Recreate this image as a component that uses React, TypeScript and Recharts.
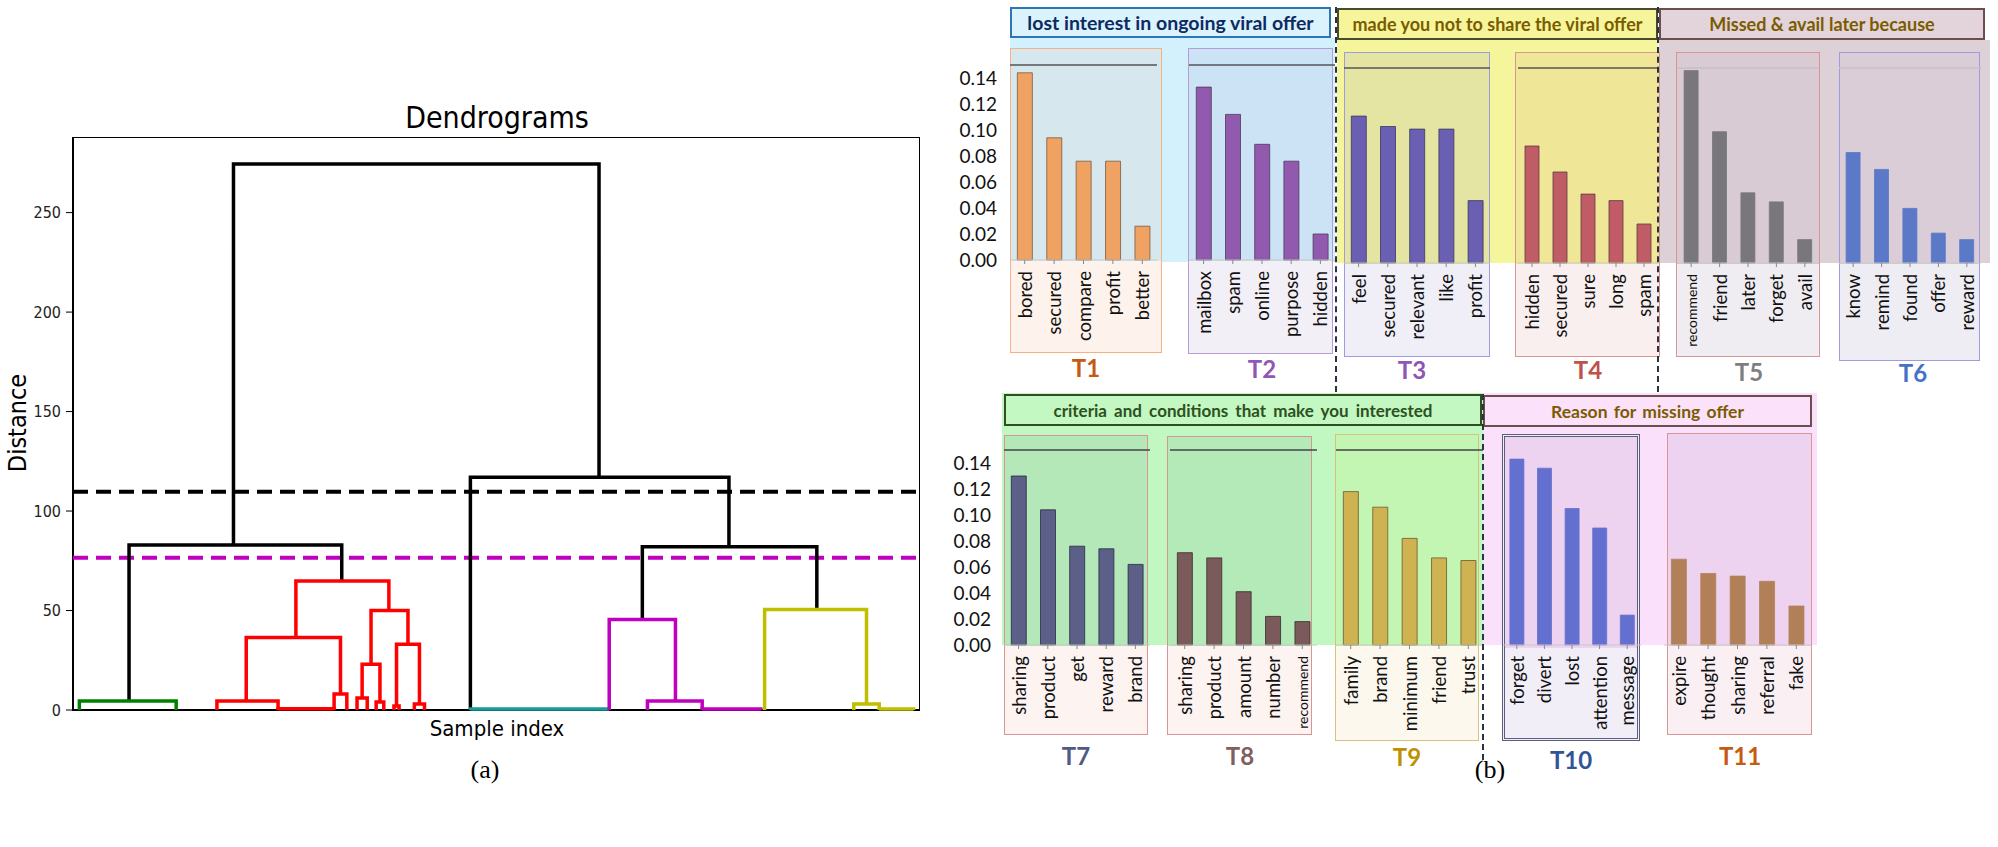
import React from "react";
import {
  ComposedChart,
  Line,
  XAxis,
  YAxis,
  ReferenceLine,
  ReferenceArea,
  BarChart,
  Bar,
} from "recharts";

// ---------- (a) dendrogram, scipy style: leg positions along the sample axis + merge heights ----------
const linkIcoord: number[][] = [
  [126, 126, 413, 413],
  [44, 44, 211, 211],
  [312, 312, 515, 515],
  [447, 447, 584, 584],
  [5, 5, 81, 81],
  [175, 175, 248, 248],
  [136, 136, 210, 210],
  [113, 113, 161, 161],
  [205, 205, 215, 215],
  [161, 161, 205, 205],
  [234, 234, 263, 263],
  [227, 227, 241, 241],
  [223, 223, 231, 231],
  [238, 238, 244, 244],
  [254, 254, 272, 272],
  [252, 252, 256, 256],
  [268, 268, 276, 276],
  [312, 312, 421, 421],
  [421, 421, 473, 473],
  [451, 451, 494, 494],
  [494, 494, 540, 540],
  [543, 543, 623, 623],
  [613, 613, 633, 633],
  [633, 633, 660, 660],
];
const linkDcoord: number[][] = [
  [82.9, 274.4, 274.4, 117.0],
  [4.5, 82.9, 82.9, 64.9],
  [0, 117.0, 117.0, 82.0],
  [45.5, 82.0, 82.0, 50.5],
  [0, 4.5, 4.5, 0],
  [36.5, 64.9, 64.9, 50.0],
  [4.5, 36.5, 36.5, 8.0],
  [0, 4.5, 4.5, 0],
  [0, 8.0, 8.0, 0],
  [0, 0.6, 0.6, 0],
  [23.0, 50.0, 50.0, 33.0],
  [6.0, 23.0, 23.0, 4.0],
  [0, 6.0, 6.0, 0],
  [0, 4.0, 4.0, 0],
  [2.0, 33.0, 33.0, 3.0],
  [0, 2.0, 2.0, 0],
  [0, 3.0, 3.0, 0],
  [0, 0.5, 0.5, 0],
  [0, 45.5, 45.5, 4.5],
  [0, 4.5, 4.5, 0],
  [0, 0.5, 0.5, 0],
  [0, 50.5, 50.5, 3.0],
  [0, 3.0, 3.0, 0],
  [0, 0.5, 0.5, 0],
];
const linkColors: string[] = [
  "#000", "#000", "#000", "#000",
  "#008000",
  "#ff0000", "#ff0000", "#ff0000", "#ff0000", "#ff0000", "#ff0000",
  "#ff0000", "#ff0000", "#ff0000", "#ff0000", "#ff0000", "#ff0000",
  "#1a9a9a",
  "#bf00bf", "#bf00bf", "#bf00bf",
  "#bfbf00", "#bfbf00", "#bfbf00",
];
const cutHeights = [109.7, 76.5];
const cutColors = ["#000", "#bf00bf"];
const distanceTicks = [0, 50, 100, 150, 200, 250];

// ---------- (b) topic word weights ----------
const topicNames = ["T1", "T2", "T3", "T4", "T5", "T6", "T7", "T8", "T9", "T10", "T11"];
const topicWords: string[][] = [
  ["bored", "secured", "compare", "profit", "better"],
  ["mailbox", "spam", "online", "purpose", "hidden"],
  ["feel", "secured", "relevant", "like", "profit"],
  ["hidden", "secured", "sure", "long", "spam"],
  ["recommend", "friend", "later", "forget", "avail"],
  ["know", "remind", "found", "offer", "reward"],
  ["sharing", "product", "get", "reward", "brand"],
  ["sharing", "product", "amount", "number", "recommend"],
  ["family", "brand", "minimum", "friend", "trust"],
  ["forget", "divert", "lost", "attention", "message"],
  ["expire", "thought", "sharing", "referral", "fake"],
];
const topicWeights: number[][] = [
  [0.144, 0.094, 0.076, 0.076, 0.026],
  [0.133, 0.112, 0.089, 0.076, 0.020],
  [0.113, 0.105, 0.103, 0.103, 0.048],
  [0.090, 0.070, 0.053, 0.048, 0.030],
  [0.148, 0.101, 0.054, 0.047, 0.018],
  [0.085, 0.072, 0.042, 0.023, 0.018],
  [0.130, 0.104, 0.076, 0.074, 0.062],
  [0.071, 0.067, 0.041, 0.022, 0.018],
  [0.118, 0.106, 0.082, 0.067, 0.065],
  [0.143, 0.136, 0.105, 0.090, 0.023],
  [0.066, 0.055, 0.053, 0.049, 0.030],
];
const weightTicks = [0, 0.02, 0.04, 0.06, 0.08, 0.1, 0.12, 0.14];
const groupTitles = [
  "lost interest in ongoing viral offer",
  "made you not to share the viral offer",
  "Missed & avail later because",
  "criteria and conditions that make you interested",
  "Reason for missing offer",
];
const smallWords = ["recommend"];

// ---------- layout ----------
const SANS = "Lato, 'Open Sans', sans-serif";
const DJV = "'DejaVu Sans Condensed', 'DejaVu Sans', sans-serif";

const GROUPS = [
  { bg: [1010, 38, 325, 224], head: [1010, 7, 321, 31], fill: "#d3f1fc", headFill: "#dbf3fc", border: "#2e75b6", text: "#0d2a63", ws: 0, fs: 19.5 },
  { bg: [1337, 40, 321, 223], head: [1337, 8, 321, 32], fill: "#f5f59b", headFill: "#f6f59c", border: "#4a4a30", text: "#7a5c00", ws: 0, fs: 18 },
  { bg: [1659, 40, 331, 223], head: [1659, 8, 326, 32], fill: "#ddd1d7", headFill: "#e3d3da", border: "#6b4f4f", text: "#7a5c00", ws: 0, fs: 18 },
  { bg: [1002, 393, 481, 252], head: [1004, 394, 478, 32], fill: "#c1f7c1", headFill: "#c3f8c3", border: "#2f4f1f", text: "#2e5020", ws: 3, fs: 17 },
  { bg: [1483, 393, 334, 252], head: [1483, 395, 329, 32], fill: "#fbe0fb", headFill: "#fce1fb", border: "#6b4f4f", text: "#7a5c00", ws: 2, fs: 17.5 },
];

// panel box [x, y, w, h], plot span, baseline, label centre
const PANELS = [
  { box: [1010, 48, 152, 305], plotL: 1010, plotR: 1157, base: 260, lab: [1086, 368], yLabels: true },
  { box: [1188, 48, 145, 306], plotL: 1189, plotR: 1335, base: 260, lab: [1262, 369], yLabels: false },
  { box: [1344, 52, 146, 305], plotL: 1344, plotR: 1490, base: 263, lab: [1412, 370], yLabels: false },
  { box: [1515, 52, 145, 305], plotL: 1518, plotR: 1658, base: 263, lab: [1588, 370], yLabels: false },
  { box: [1676, 52, 144, 305], plotL: 1677, plotR: 1819, base: 263, lab: [1749, 372], yLabels: false },
  { box: [1839, 52, 141, 309], plotL: 1839, plotR: 1981, base: 263, lab: [1913, 373], yLabels: false },
  { box: [1004, 435, 144, 300], plotL: 1004, plotR: 1150, base: 645, lab: [1076, 756], yLabels: true },
  { box: [1167, 436, 145, 299], plotL: 1170, plotR: 1317, base: 645, lab: [1240, 756], yLabels: false },
  { box: [1335, 434, 144, 307], plotL: 1336, plotR: 1483, base: 645, lab: [1407, 757], yLabels: false },
  { box: [1502, 434, 138, 307], plotL: 1503, plotR: 1641, base: 645, lab: [1571, 760], yLabels: false },
  { box: [1667, 433, 145, 302], plotL: 1664, plotR: 1811, base: 645, lab: [1740, 756], yLabels: false },
];

const STYLES = [
  { bar: "#f0a262", edge: "#7a5a40", border: "#f4b183", up: "#d6e8ee", low: "#fdf3ec", label: "#c55a11", topLine: "#555" },
  { bar: "#925aae", edge: "#4a3a5a", border: "#b99bd5", up: "#cce3f6", low: "#f3eff7", label: "#9157b5", topLine: "#555" },
  { bar: "#6a5fb2", edge: "#3a3a5a", border: "#9f9be0", up: "#e4e5a2", low: "#f0eff8", label: "#8e55b5", topLine: "#555" },
  { bar: "#c05c66", edge: "#5a3a3a", border: "#d99594", up: "#efe698", low: "#f9efef", label: "#c0504d", topLine: "#555" },
  { bar: "#7a777c", edge: "#7a777c", border: "#d99594", up: "#d8cbd4", low: "#efedf2", label: "#7f7f7f", topLine: "#cbbfc6" },
  { bar: "#5b79c6", edge: "#5b79c6", border: "#9f9be0", up: "#dacdd8", low: "#efedf4", label: "#4472c4", topLine: "#cbbfc6" },
  { bar: "#5c5f88", edge: "#2a2a40", border: "#d99594", up: "#b4e8b8", low: "#fdf3f1", label: "#4f5b82", topLine: "#444" },
  { bar: "#7b5a5c", edge: "#3a2a2a", border: "#d99594", up: "#b4e9b8", low: "#fdf3f1", label: "#7f5f5f", topLine: "#444" },
  { bar: "#cfb252", edge: "#6a5a2a", border: "#d6c27a", up: "#c3f5b3", low: "#fdf8ee", label: "#bf9000", topLine: "#444" },
  { bar: "#6470d0", edge: "#6470d0", border: "#5a5f80", up: "#edd3ef", low: "#f1eef8", label: "#2f5597", topLine: "" },
  { bar: "#b28058", edge: "#b28058", border: "#d99594", up: "#edd3ef", low: "#faf0f4", label: "#c55a11", topLine: "" },
];

const DASHES = [
  [1336, 7, 385],
  [1658, 7, 385],
  [1483, 394, 366],
];

const WordTick = (props: any) => {
  const { x, y, payload } = props;
  const small = smallWords.includes(payload.value);
  return (
    <text
      x={x}
      y={y}
      transform={`rotate(-90 ${x} ${y})`}
      textAnchor="end"
      dominantBaseline="central"
      fontFamily={SANS}
      fontSize={small ? 14 : 18.5}
      fill="#111"
    >
      {payload.value}
    </text>
  );
};

function Dendrogram() {
  return (
    <>
      <div style={{ position: "absolute", left: 13, top: 137 }}>
        <ComposedChart width={907} height={587} margin={{ top: 0, right: 0, bottom: 14, left: 0 }}>
          <XAxis dataKey="x" type="number" domain={[0, 665]} allowDataOverflow hide />
          <YAxis
            type="number"
            domain={[0, 288]}
            ticks={distanceTicks}
            interval={0}
            width={60}
            axisLine={false}
            tickLine={{ stroke: "#000" }}
            tickSize={7}
            tickMargin={5}
            tick={{ fontSize: 16, fontFamily: DJV, fill: "#222" }}
          />
          <ReferenceArea x1={0} x2={665} y1={0} y2={288} fill="none" stroke="#000" strokeWidth={2} />
          {cutHeights.map((h, i) => (
            <ReferenceLine key={`cut-${i}`} y={h} stroke={cutColors[i]} strokeWidth={4} strokeDasharray="15 8" />
          ))}
          {linkIcoord.map((xs, i) => (
            <Line
              key={`link-${i}`}
              data={xs.map((x, j) => ({ x, y: linkDcoord[i][j] }))}
              dataKey="y"
              type="linear"
              stroke={linkColors[i]}
              strokeWidth={3.5}
              dot={false}
              isAnimationActive={false}
            />
          ))}
        </ComposedChart>
      </div>
      <div style={{ position: "absolute", left: 297, top: 99, width: 400, textAlign: "center", fontFamily: DJV, fontSize: 30, lineHeight: "38px" }}>
        Dendrograms
      </div>
      <div style={{ position: "absolute", left: 17, top: 423, transform: "translate(-50%, -50%) rotate(-90deg)", fontFamily: DJV, fontSize: 25, whiteSpace: "nowrap" }}>
        Distance
      </div>
      <div style={{ position: "absolute", left: 297, top: 714, width: 400, textAlign: "center", fontFamily: DJV, fontSize: 22, lineHeight: "30px" }}>
        Sample index
      </div>
    </>
  );
}

function TopicChart({ idx }: { idx: number }) {
  const P = PANELS[idx];
  const S = STYLES[idx];
  const data = topicWords[idx].map((word, i) => ({ word, weight: topicWeights[idx][i] }));
  const yW = P.yLabels ? 70 : 0;
  const xH = 110;
  const plotTop = P.base - 195;
  return (
    <div style={{ position: "absolute", left: P.plotL - yW, top: plotTop - (S.topLine ? 1 : 0) }}>
      <BarChart
        width={P.plotR - P.plotL + yW}
        height={195 + (S.topLine ? 1 : 0) + xH}
        data={data}
        margin={{ top: 0, right: 0, bottom: 0, left: 0 }}
        barCategoryGap="25%"
      >
        <XAxis
          xAxisId="top"
          orientation="top"
          dataKey="word"
          height={1}
          hide={!S.topLine}
          tick={false}
          tickSize={-5}
          axisLine={{ stroke: S.topLine, strokeWidth: 1.5 }}
          tickLine={{ stroke: S.topLine }}
        />
        <XAxis
          dataKey="word"
          height={xH}
          interval={0}
          tickSize={4}
          tickMargin={7}
          axisLine={{ stroke: "#c8c8c8" }}
          tickLine={{ stroke: "#888" }}
          tick={<WordTick />}
        />
        <YAxis
          type="number"
          domain={[0, 0.15]}
          ticks={weightTicks}
          interval={0}
          hide={!P.yLabels}
          width={yW}
          axisLine={false}
          tickLine={false}
          tickSize={0}
          tickMargin={13}
          tickFormatter={(v: number) => v.toFixed(2)}
          tick={{ fontSize: 19, fontFamily: SANS, fill: "#111" }}
        />
        <Bar dataKey="weight" fill={S.bar} stroke={S.edge} strokeWidth={0.8} isAnimationActive={false} />
      </BarChart>
    </div>
  );
}

export default function App() {
  return (
    <div style={{ position: "absolute", left: 0, top: 0, width: 1998, height: 847, background: "#fff", overflow: "hidden" }}>
      <Dendrogram />

      {GROUPS.map((g, i) => (
        <div
          key={`gbg-${i}`}
          style={{ position: "absolute", left: g.bg[0], top: g.bg[1], width: g.bg[2], height: g.bg[3], background: g.fill }}
        />
      ))}

      {PANELS.map((p, i) => {
        const S = STYLES[i];
        return (
          <div
            key={`panel-${i}`}
            style={{
              position: "absolute",
              left: p.box[0],
              top: p.box[1],
              width: p.box[2],
              height: p.box[3],
              boxSizing: "border-box",
              border: i === 9 ? `3px double ${S.border}` : `1.5px solid ${S.border}`,
              background: S.low,
              overflow: "hidden",
            }}
          >
            <div style={{ width: "100%", height: p.base - p.box[1], background: S.up }} />
          </div>
        );
      })}

      {PANELS.map((_, i) => (
        <TopicChart key={`chart-${i}`} idx={i} />
      ))}

      {GROUPS.map((g, i) => (
        <div
          key={`ghead-${i}`}
          style={{
            position: "absolute",
            left: g.head[0],
            top: g.head[1],
            width: g.head[2],
            height: g.head[3],
            boxSizing: "border-box",
            border: `2px solid ${g.border}`,
            background: g.headFill,
            color: g.text,
            fontFamily: SANS,
            fontWeight: 700,
            fontSize: g.fs,
            wordSpacing: g.ws,
            display: "flex",
            alignItems: "center",
            justifyContent: "center",
            whiteSpace: "nowrap",
          }}
        >
          {groupTitles[i]}
        </div>
      ))}

      {DASHES.map((d, i) => (
        <div
          key={`dash-${i}`}
          style={{ position: "absolute", left: d[0] - 1, top: d[1], width: 0, height: d[2], borderLeft: "2.5px dashed #2a3340" }}
        />
      ))}

      {PANELS.map((p, i) => (
        <div
          key={`lab-${i}`}
          style={{
            position: "absolute",
            left: p.lab[0] - 40,
            top: p.lab[1] - 15,
            width: 80,
            textAlign: "center",
            fontFamily: SANS,
            fontWeight: 700,
            fontSize: 24,
            lineHeight: "30px",
            color: STYLES[i].label,
          }}
        >
          {topicNames[i]}
        </div>
      ))}

      <div style={{ position: "absolute", left: 445, top: 755, width: 80, textAlign: "center", fontFamily: "'Liberation Serif', serif", fontSize: 26 }}>
        (a)
      </div>
      <div style={{ position: "absolute", left: 1450, top: 755, width: 80, textAlign: "center", fontFamily: "'Liberation Serif', serif", fontSize: 26 }}>
        (b)
      </div>
    </div>
  );
}
